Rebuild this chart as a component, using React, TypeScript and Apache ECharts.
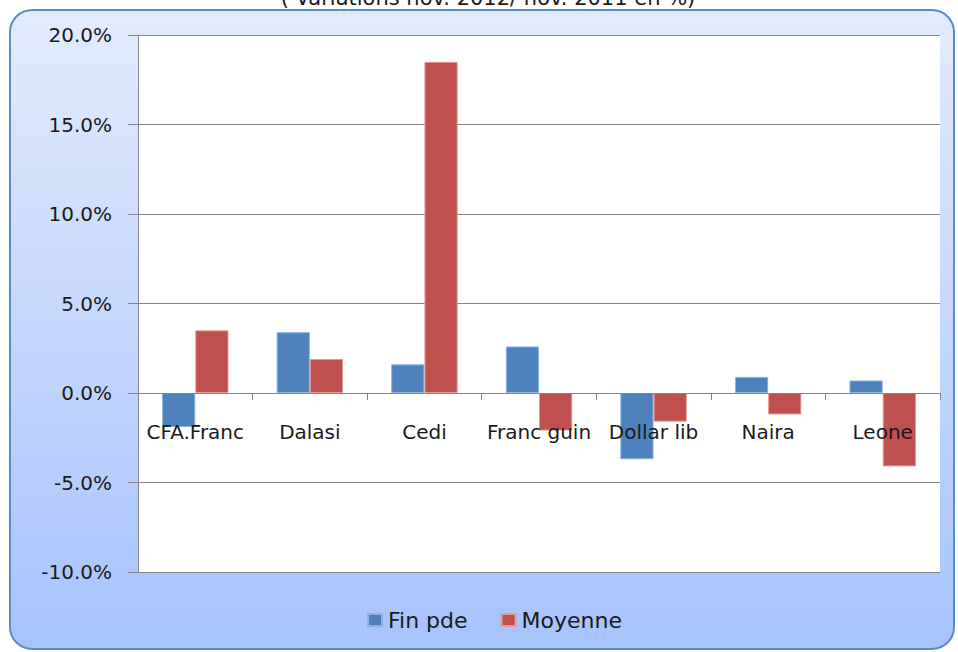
import React, { useEffect, useRef } from "react";
import * as echarts from "echarts";

const categories = ["CFA.Franc", "Dalasi", "Cedi", "Franc guin", "Dollar lib", "Naira", "Leone"];
const finPde = [-1.9, 3.4, 1.6, 2.6, -3.7, 0.9, 0.7];
const moyenne = [3.5, 1.9, 18.5, -2.1, -1.6, -1.2, -4.1];
const titleText = "( Variations nov. 2012/ nov. 2011 en %)";

const FONT = "DejaVu Sans";

export default function App() {
  const ref = useRef<HTMLDivElement>(null);
  useEffect(() => {
    if (!ref.current) return;
    const chart = echarts.init(ref.current, null, { renderer: "svg" });
    chart.setOption({
      animation: false,
      backgroundColor: "#ffffff",
      textStyle: { fontFamily: FONT },
      graphic: [
        {
          type: "rect",
          z: -10,
          silent: true,
          shape: { x: 10, y: 10, width: 944, height: 639, r: 22 },
          style: {
            fill: new echarts.graphic.LinearGradient(0, 0, 0, 1, [
              { offset: 0, color: "#e3ebfd" },
              { offset: 1, color: "#a6c3fc" },
            ]),
            stroke: "#5a8bcb",
            lineWidth: 2,
          },
        },
        {
          type: "text",
          x: 488,
          y: -13,
          style: {
            text: titleText,
            font: `21px "${FONT}"`,
            fill: "#1a1a1a",
            align: "center",
            verticalAlign: "top",
          },
        },
      ],
      grid: {
        left: 138,
        right: 18,
        top: 35,
        bottom: 80,
        show: true,
        backgroundColor: "#ffffff",
        borderWidth: 0,
        containLabel: false,
      },
      legend: {
        top: 604,
        left: 362,
        itemWidth: 14,
        itemHeight: 12,
        itemGap: 33,
        icon: "rect",
        textStyle: { fontFamily: FONT, fontSize: 22, color: "#1a1a1a", padding: [0, 0, 0, 1] },
        data: ["Fin pde", "Moyenne"],
      },
      xAxis: {
        type: "category",
        data: categories,
        axisLine: { onZero: true, lineStyle: { color: "#868686", width: 1 } },
        axisTick: { show: true, length: 7, lineStyle: { color: "#868686" } },
        axisLabel: { fontFamily: FONT, fontSize: 20, color: "#1a1a1a", margin: -150, interval: 0 },
        splitLine: { show: false },
        z: 10,
      },
      yAxis: {
        type: "value",
        min: -10,
        max: 20,
        interval: 5,
        axisLine: { show: true, lineStyle: { color: "#868686" } },
        axisTick: { show: true, length: 10, lineStyle: { color: "#868686" } },
        axisLabel: {
          fontFamily: FONT,
          fontSize: 20,
          color: "#1a1a1a",
          margin: 26,
          formatter: (v: number) => v.toFixed(1) + "%",
        },
        splitLine: { show: true, lineStyle: { color: "#868686", width: 1 } },
      },
      series: [
        {
          name: "Fin pde",
          type: "bar",
          data: finPde,
          barGap: "0%",
          barCategoryGap: "42%",
          itemStyle: { color: "#4f81bd", borderColor: "#8fb2de", borderWidth: 1 },
        },
        {
          name: "Moyenne",
          type: "bar",
          data: moyenne,
          itemStyle: { color: "#c0504d", borderColor: "#e19c9a", borderWidth: 1 },
        },
      ],
    });
    return () => chart.dispose();
  }, []);
  return <div ref={ref} style={{ width: 958, height: 652, position: "absolute", left: 0, top: 0 }} />;
}
